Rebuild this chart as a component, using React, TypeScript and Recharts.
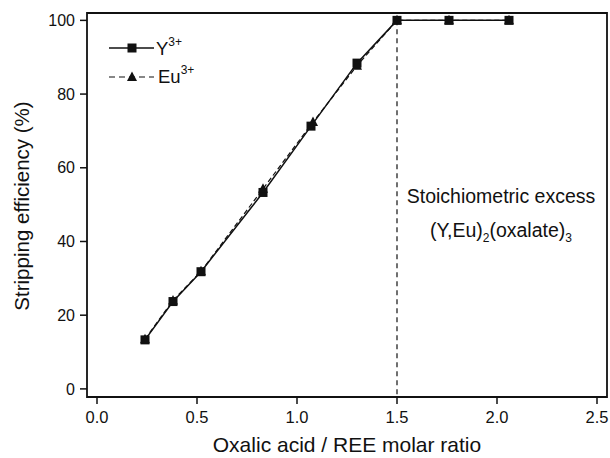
import { LineChart, Line, XAxis, YAxis, ReferenceLine, ReferenceArea } from "recharts";

const ratioY = [0.24, 0.38, 0.52, 0.83, 1.07, 1.3, 1.5, 1.76, 2.06];
const effY = [13.3, 23.7, 31.8, 53.3, 71.3, 88.4, 100, 100, 100];
const ratioEu = [0.24, 0.38, 0.52, 0.83, 1.08, 1.3, 1.5, 1.76, 2.06];
const effEu = [13.5, 24.0, 31.9, 54.3, 72.4, 87.7, 100, 100, 100];
const xTicks = [0, 0.5, 1.0, 1.5, 2.0, 2.5];
const yTicks = [0, 20, 40, 60, 80, 100];

const yData = ratioY.map((x, i) => ({ x, y: effY[i] }));
const euData = ratioEu.map((x, i) => ({ x, y: effEu[i] }));

const FONT = "'Liberation Sans', Arial, sans-serif";
const INK = "#111";

const Square = (p: any) =>
  p.cx == null ? null : <rect key={p.key} x={p.cx - 4.5} y={p.cy - 4.5} width={9} height={9} fill={INK} />;

const Tri = (p: any) =>
  p.cx == null ? null : (
    <path key={p.key} d={`M${p.cx},${p.cy - 5.5}L${p.cx + 5},${p.cy + 4}L${p.cx - 5},${p.cy + 4}Z`} fill={INK} />
  );

export default function App() {
  return (
    <div style={{ position: "absolute", left: 0, top: 0, fontFamily: FONT }}>
      <LineChart width={610} height={458} margin={{ top: 13, right: 3, bottom: 0, left: 0 }}>
        <ReferenceArea x1={-0.05} x2={2.55} y1={-2.2} y2={102} fill="none" stroke={INK} strokeWidth={1.8} ifOverflow="visible" />
        <XAxis
          type="number"
          dataKey="x"
          domain={[-0.05, 2.55]}
          ticks={xTicks}
          tickFormatter={(v: number) => v.toFixed(1)}
          height={61}
          tickSize={7}
          tickMargin={7}
          axisLine={false}
          tickLine={{ stroke: INK, strokeWidth: 1.5 }}
          tick={{ fill: INK, fontSize: 16.5, fontFamily: FONT }}
          allowDataOverflow
        />
        <YAxis
          type="number"
          domain={[-2.2, 102]}
          ticks={yTicks}
          width={87}
          tickSize={7}
          tickMargin={5}
          axisLine={false}
          tickLine={{ stroke: INK, strokeWidth: 1.5 }}
          tick={{ fill: INK, fontSize: 16, fontFamily: FONT }}
          allowDataOverflow
        />
        <ReferenceLine
          segment={[{ x: 1.5, y: 100 }, { x: 1.5, y: -2.2 }]}
          stroke={INK}
          strokeWidth={1.2}
          strokeDasharray="5 4"
        />
        <Line data={yData} dataKey="y" stroke={INK} strokeWidth={1.5} dot={Square} isAnimationActive={false} />
        <Line data={euData} dataKey="y" stroke={INK} strokeWidth={1.2} strokeDasharray="5 3" dot={Tri} isAnimationActive={false} />
        <text x={347} y={452} textAnchor="middle" fontSize={21} fontFamily={FONT} fill={INK}>
          Oxalic acid / REE molar ratio
        </text>
        <text transform="translate(29,206) rotate(-90)" textAnchor="middle" fontSize={20.5} fontFamily={FONT} fill={INK}>
          Stripping efficiency (%)
        </text>
        <text x={501} y={203} textAnchor="middle" fontSize={19.5} fontFamily={FONT} fill={INK}>
          Stoichiometric excess
        </text>
        <text x={501} y={237} textAnchor="middle" fontSize={19.5} fontFamily={FONT} fill={INK}>
          (Y,Eu)
          <tspan fontSize={12} dy={5}>2</tspan>
          <tspan dy={-5}>(oxalate)</tspan>
          <tspan fontSize={12} dy={5}>3</tspan>
        </text>
        <g fontFamily={FONT} fill={INK}>
          <line x1={109} y1={48} x2={154} y2={48} stroke={INK} strokeWidth={1.5} />
          <rect x={127.5} y={43.5} width={9} height={9} fill={INK} />
          <text x={156} y={55} fontSize={18.5}>
            Y<tspan fontSize={12} dy={-9}>3+</tspan>
          </text>
          <line x1={109} y1={77} x2={154} y2={77} stroke={INK} strokeWidth={1.2} strokeDasharray="6 4" />
          <path d="M132,71.5L137,81L127,81Z" fill={INK} />
          <text x={158} y={83} fontSize={18.5}>
            Eu<tspan fontSize={12} dy={-9}>3+</tspan>
          </text>
        </g>
      </LineChart>
    </div>
  );
}
